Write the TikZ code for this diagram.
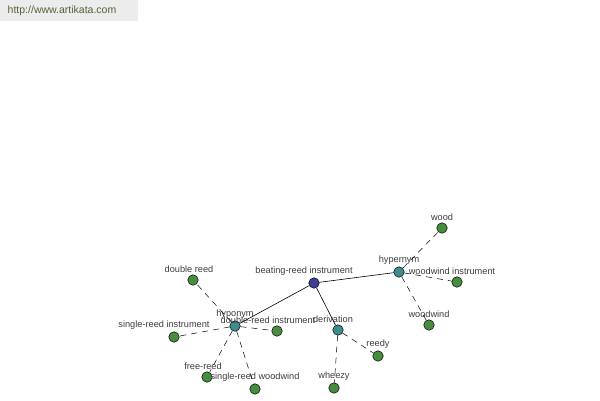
\documentclass[tikz,border=0pt]{standalone}
\usepackage{fontspec}
\setmainfont{Liberation Sans}
\definecolor{leafgreen}{RGB}{72,140,64}
\definecolor{reltile}{RGB}{64,140,140}
\definecolor{rootblue}{RGB}{62,62,150}
\definecolor{labelgray}{RGB}{60,60,60}
\definecolor{webgray}{RGB}{236,236,236}
\definecolor{webgreen}{RGB}{80,100,50}
\begin{document}
\begin{tikzpicture}[x=1pt, y=-1pt, every node/.style={align=center},
  word/.style={circle, draw=black, line width=0.5pt, inner sep=0pt, minimum size=10.5pt, fill=leafgreen},
  rel/.style={word, fill=reltile},
  every label/.style={font=\fontsize{9.2}{10}\selectfont, text=labelgray, inner sep=1pt, label distance=1pt},
  link/.style={dashed, dash pattern=on 6pt off 5pt, line width=0.5pt}]
\useasboundingbox (0,0) rectangle (600,400);
\fill[webgray] (0,0) rectangle (138,21);
\node (site) [text=webgreen, font=\fontsize{10.5}{12}\selectfont] at (62,11) {http://www.artikata.com};

\node (beating) [word, fill=rootblue, label={[xshift=-10pt]above:beating-reed instrument}] at (314,283) {};
\node (hyper) [rel, label={above:hypernym}] at (399,272) {};
\node (deriv) [rel, label={[xshift=-5pt]above:derivation}] at (338,330) {};
\node (hypo) [rel, label={above:hyponym}] at (235,326) {};

\node (wood) [word, label={above:wood}] at (442,228) {};
\node (wwinstr) [word, label={[xshift=-5pt]above:woodwind instrument}] at (457,282) {};
\node (wwind) [word, label={above:woodwind}] at (429,325) {};
\node (reedy) [word, label={above:reedy}] at (378,356) {};
\node (wheezy) [word, label={above:wheezy}] at (334,388) {};
\node (dreed) [word, label={[xshift=-4pt]above:double reed}] at (193,280) {};
\node (sinstr) [word, label={[xshift=-10pt]above:single-reed instrument}] at (174,337) {};
\node (dinstr) [word, label={[xshift=-9pt]above:double-reed instrument}] at (277,331) {};
\node (free) [word, label={[xshift=-4pt]above:free-reed}] at (207,377) {};
\node (swind) [word, label={above:single-reed woodwind}] at (255,389) {};

\draw[line width=0.6pt] (beating) -- (hyper);
\draw[line width=0.6pt] (beating) -- (hypo);
\draw[line width=0.6pt] (beating) -- (deriv);

\draw[link] (hyper) -- (wood);
\draw[link] (hyper) -- (wwinstr);
\draw[link] (hyper) -- (wwind);
\draw[link] (deriv) -- (reedy);
\draw[link] (deriv) -- (wheezy);
\draw[link] (hypo) -- (dreed);
\draw[link] (hypo) -- (sinstr);
\draw[link] (hypo) -- (dinstr);
\draw[link] (hypo) -- (free);
\draw[link] (hypo) -- (swind);
\end{tikzpicture}
\end{document}
